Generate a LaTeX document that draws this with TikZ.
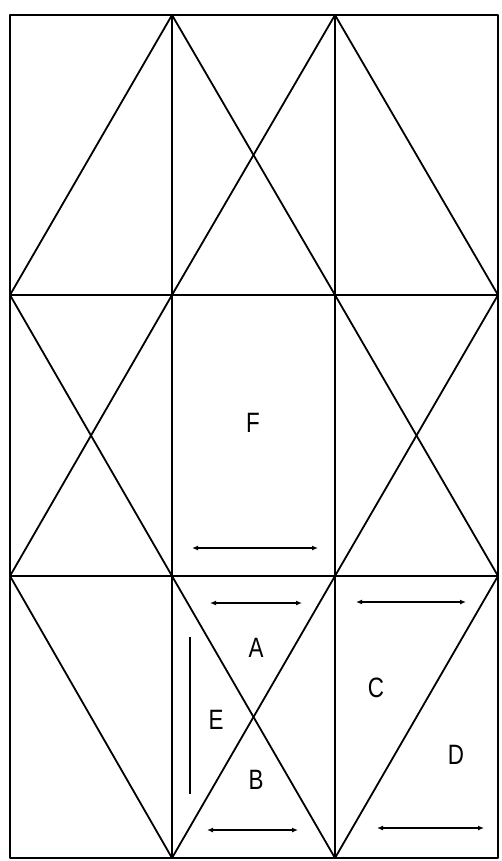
\documentclass[tikz,border=0pt]{standalone}
\usepackage{fontspec}
\setmainfont{Liberation Sans}[FakeStretch=0.8]
\usetikzlibrary{arrows.meta}
\begin{document}
\begin{tikzpicture}[x=1pt,y=-1pt,
  edge/.style={line width=1.8pt,line join=round},
  dbl/.style={line width=2pt,{Latex[length=6pt,width=5pt]}-{Latex[length=6pt,width=5pt]}},
  lbl/.style={font=\fontsize{28}{28}\selectfont,inner sep=0pt}]
\useasboundingbox (0,0) rectangle (501,861);
% grid coordinates
\foreach \i/\x in {0/10,1/172,2/335,3/498}{
  \foreach \j/\y in {0/15,1/295,2/576,3/858}{
    \coordinate (p\i\j) at (\x,\y);
  }
}
% outer frame and grid
\draw[edge] (p00) rectangle (p33);
\draw[edge] (p10) -- (p13);
\draw[edge] (p20) -- (p23);
\draw[edge] (p01) -- (p31);
\draw[edge] (p02) -- (p32);
% row 1
\draw[edge] (p01) -- (p10);
\draw[edge] (p10) -- (p21);
\draw[edge] (p11) -- (p20);
\draw[edge] (p20) -- (p31);
% row 2
\draw[edge] (p01) -- (p12);
\draw[edge] (p02) -- (p11);
\draw[edge] (p21) -- (p32);
\draw[edge] (p22) -- (p31);
% row 3
\draw[edge] (p02) -- (p13);
\draw[edge] (p12) -- (p23);
\draw[edge] (p13) -- (p22);
\draw[edge] (p23) -- (p32);
% labels
\node[lbl] (F) at (253,423) {F};
\node[lbl] (A) at (256,648) {A};
\node[lbl] (E) at (216,720) {E};
\node[lbl] (B) at (256,780) {B};
\node[lbl] (C) at (376,688) {C};
\node[lbl] (D) at (456,755) {D};
% arrows
\coordinate (f1) at (192,548); \coordinate (f2) at (318,548);
\draw[dbl] (f1) -- (f2);
\coordinate (a1) at (210,603); \coordinate (a2) at (302,603);
\draw[dbl] (a1) -- (a2);
\coordinate (c1) at (356,602); \coordinate (c2) at (466,602);
\draw[dbl] (c1) -- (c2);
\coordinate (b1) at (207,830); \coordinate (b2) at (298,830);
\draw[dbl] (b1) -- (b2);
\coordinate (d1) at (377,828); \coordinate (d2) at (484,828);
\draw[dbl] (d1) -- (d2);
\coordinate (e1) at (190,637); \coordinate (e2) at (190,794);
\draw[line width=2pt] (e1) -- (e2);
\end{tikzpicture}
\end{document}
